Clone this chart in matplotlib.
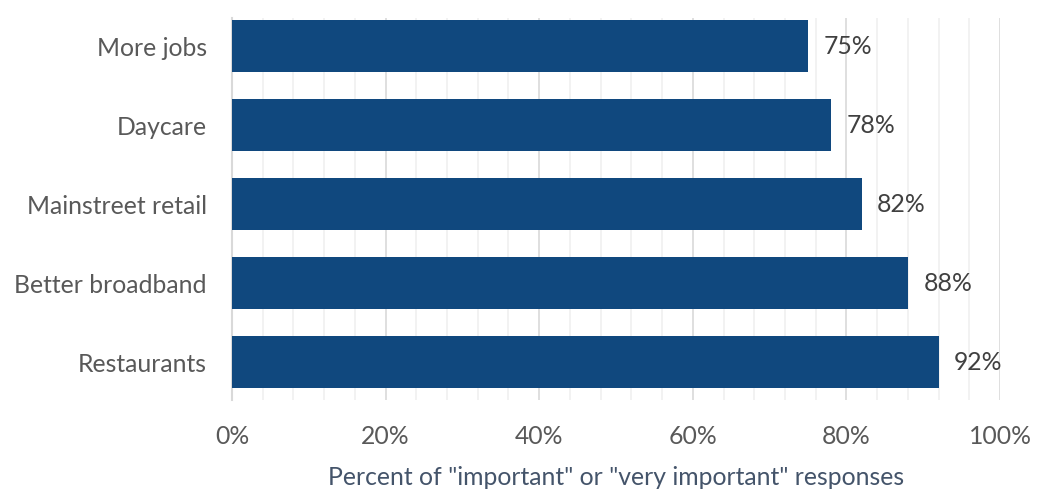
import matplotlib
matplotlib.use("Agg")
import matplotlib.pyplot as plt
from matplotlib.ticker import MultipleLocator, FuncFormatter

categories = ["More jobs", "Daycare", "Mainstreet retail", "Better broadband", "Restaurants"]
values = [75, 78, 82, 88, 92]
value_labels = ["75%", "78%", "82%", "88%", "92%"]
xlabel = 'Percent of "important" or "very important" responses'

plt.rcParams["font.family"] = ["Lato", "DejaVu Sans"]
FS = 17.8

fig = plt.figure(figsize=(10.45, 4.92), dpi=100)
ax = fig.add_axes([0.222, 0.187, 0.735, 0.776])

y = list(range(len(categories)))
ax.barh(y, values, height=0.66, color="#10487E", zorder=3)

for yi, v, lab in zip(y, values, value_labels):
    ax.text(v + 2, yi, lab, va="center", ha="left", fontsize=FS, color="#404040")

ax.set_xlim(0, 100)
ax.set_ylim(4.48, -0.354)
ax.set_yticks(y)
ax.set_yticklabels(categories, fontsize=FS, color="#595959")

ax.xaxis.set_major_locator(MultipleLocator(20))
ax.xaxis.set_minor_locator(MultipleLocator(4))
ax.xaxis.set_major_formatter(FuncFormatter(lambda x, _: f"{x:.0f}%"))
ax.tick_params(axis="x", which="both", length=0, labelsize=FS, labelcolor="#595959", pad=18)
ax.tick_params(axis="y", length=0, pad=18)

ax.grid(axis="x", which="major", color="#D9D9D9", linewidth=1.2, zorder=0)
ax.grid(axis="x", which="minor", color="#F0F0F0", linewidth=1.2, zorder=0)
ax.set_axisbelow(True)

for side in ["top", "right", "bottom"]:
    ax.spines[side].set_visible(False)
ax.spines["left"].set_color("#D9D9D9")
ax.spines["left"].set_linewidth(1.5)

ax.set_xlabel(xlabel, fontsize=FS, color="#44546A", labelpad=13)

fig.savefig("out.png", dpi=100)
